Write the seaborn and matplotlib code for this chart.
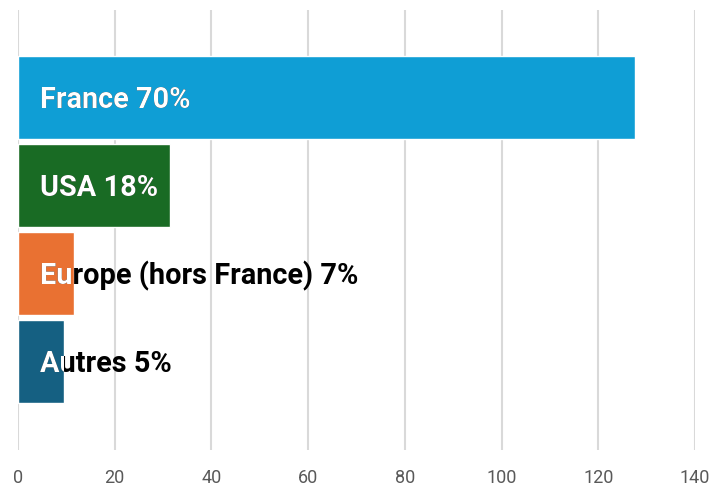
import pandas as pd
import seaborn as sns
import matplotlib.pyplot as plt

regions = ["France", "USA", "Europe (hors France)", "Autres"]
values = [127.5, 31.5, 11.5, 9.5]
shares = ["70%", "18%", "7%", "5%"]
colors = ["#0F9ED5", "#196B24", "#E97132", "#156082"]

df = pd.DataFrame({"region": regions, "value": values})

sns.set_style("white")
plt.rcParams['font.family'] = ['Roboto', 'DejaVu Sans']

fig = plt.figure(figsize=(7.17, 4.9), dpi=100)
ax = fig.add_axes([18 / 717, 40 / 490, 677 / 717, 440 / 490])

sns.barplot(data=df, x="value", y="region", hue="region", palette=colors,
            saturation=1, width=0.945, legend=False, ax=ax, zorder=2)

ax.set_xlim(0, 140)
ax.set_ylim(4.01, -0.99)
ax.set_xticks(range(0, 141, 20))
ax.grid(axis="x", color="#d9d9d9", linewidth=1.5, zorder=0)
ax.set_axisbelow(True)
for s in ax.spines.values():
    s.set_visible(False)
ax.set_xlabel("")
ax.set_ylabel("")
ax.set_yticks([])
ax.tick_params(axis="x", length=0, pad=14, labelsize=13, labelcolor="#595959")

# labels: black everywhere, white where they sit on the bar
for i, bar in enumerate(ax.patches):
    txt = f"{regions[i]} {shares[i]}"
    y = bar.get_y() + bar.get_height() / 2
    ax.annotate(txt, (0, y), xytext=(22, -3), textcoords="offset pixels",
                va="center", ha="left", fontsize=20.8, fontweight="bold", color="black", zorder=3)
    t = ax.annotate(txt, (0, y), xytext=(22, -3), textcoords="offset pixels",
                    va="center", ha="left", fontsize=20.8, fontweight="bold", color="white", zorder=4)
    t.set_clip_path(bar)

fig.savefig("out.png", dpi=100)
